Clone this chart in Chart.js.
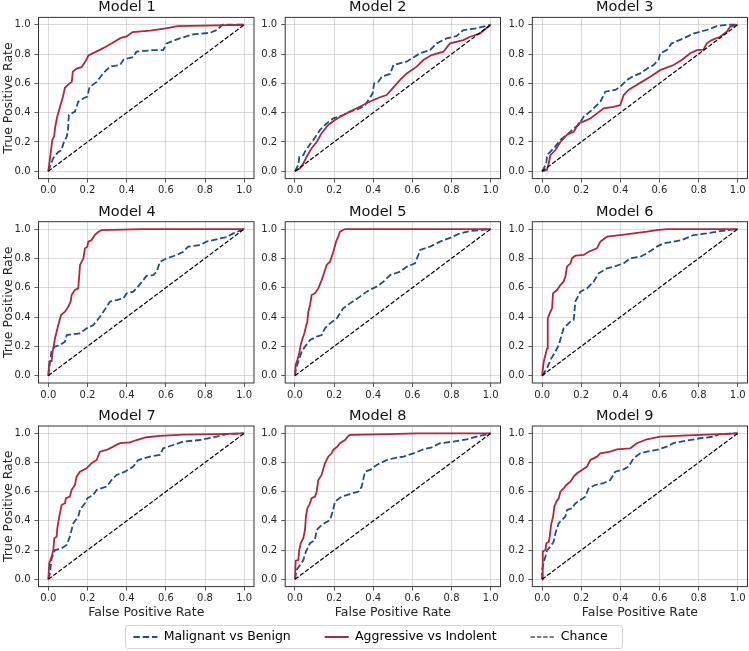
<!DOCTYPE html>
<html>
<head>
<meta charset="utf-8">
<script src="https://cdn.jsdelivr.net/npm/chart.js@4"></script>
<style>
html,body{margin:0;padding:0;background:#fff;overflow:hidden}
#fig{position:relative;width:749px;height:651px;overflow:hidden}
#fig canvas{position:absolute}
#legendBox{position:absolute;left:125px;top:625px;width:498px;height:24px;border:1px solid #d4d4d4;border-radius:3px;box-sizing:border-box}
</style>
</head>
<body>
<div id="fig"><div id="legendBox"></div></div>
<script>
// ---- data ----
const modelNames = ['Model 1','Model 2','Model 3','Model 4','Model 5','Model 6','Model 7','Model 8','Model 9'];
const rateTicks = [0, 0.2, 0.4, 0.6, 0.8, 1.0];
const chanceX = [0, 1];
const chanceY = [0, 1];

const malX1 = [0,0.025,0.05,0.068,0.077,0.094,0.1,0.105,0.136,0.153,0.18,0.2,0.21,0.247,0.28,0.315,0.366,0.386,0.434,0.45,0.536,0.587,0.604,0.67,0.74,0.825,0.86,0.89,1];
const malY1 = [0,0.09,0.13,0.145,0.19,0.236,0.27,0.384,0.407,0.475,0.498,0.51,0.573,0.61,0.668,0.714,0.725,0.764,0.78,0.816,0.827,0.827,0.873,0.907,0.934,0.945,0.964,1,1];
const aggX1 = [0,0.01,0.02,0.03,0.035,0.045,0.06,0.075,0.085,0.1,0.12,0.125,0.145,0.17,0.19,0.205,0.25,0.28,0.32,0.37,0.40,0.43,0.52,0.6,0.66,0.86,1];
const aggY1 = [0,0.1,0.21,0.24,0.3,0.37,0.44,0.51,0.57,0.59,0.61,0.68,0.7,0.71,0.75,0.79,0.82,0.84,0.87,0.91,0.92,0.95,0.96,0.975,0.99,0.995,1];

const malX2 = [0,0.017,0.022,0.043,0.051,0.068,0.094,0.128,0.162,0.196,0.247,0.281,0.332,0.358,0.375,0.397,0.404,0.426,0.443,0.486,0.503,0.57,0.605,0.639,0.69,0.724,0.775,0.826,0.86,0.928,1];
const malY2 = [0,0.043,0.1,0.111,0.134,0.168,0.214,0.282,0.327,0.361,0.384,0.407,0.43,0.452,0.486,0.532,0.6,0.611,0.645,0.664,0.725,0.748,0.777,0.805,0.827,0.873,0.907,0.923,0.964,0.975,1];
const aggX2 = [0,0.026,0.043,0.06,0.085,0.111,0.136,0.17,0.204,0.247,0.281,0.315,0.366,0.4,0.434,0.468,0.503,0.537,0.571,0.622,0.656,0.698,0.758,0.792,0.86,0.894,0.945,1];
const aggY2 = [0,0.02,0.055,0.1,0.157,0.2,0.26,0.316,0.35,0.384,0.407,0.43,0.464,0.486,0.505,0.52,0.573,0.623,0.668,0.714,0.759,0.793,0.816,0.873,0.895,0.918,0.94,1];

const malX3 = [0,0.0085,0.022,0.0255,0.0425,0.068,0.0935,0.128,0.162,0.187,0.213,0.255,0.298,0.323,0.374,0.4,0.434,0.468,0.502,0.536,0.57,0.595,0.604,0.638,0.663,0.723,0.774,0.842,0.893,0.944,1];
const malY3 = [0,0.02,0.055,0.11,0.134,0.17,0.214,0.25,0.293,0.316,0.373,0.418,0.475,0.543,0.555,0.577,0.623,0.65,0.668,0.70,0.725,0.76,0.805,0.827,0.873,0.907,0.94,0.964,0.99,1,1];
const aggX3 = [0,0.0255,0.034,0.0425,0.068,0.0935,0.128,0.162,0.187,0.213,0.247,0.281,0.315,0.366,0.4,0.417,0.442,0.468,0.51,0.553,0.604,0.672,0.714,0.757,0.791,0.825,0.842,0.867,0.91,0.944,0.961,1];
const aggY3 = [0,0.01,0.055,0.11,0.145,0.2,0.25,0.27,0.327,0.34,0.36,0.395,0.43,0.44,0.452,0.52,0.555,0.577,0.61,0.645,0.69,0.725,0.76,0.805,0.827,0.83,0.873,0.895,0.918,0.952,0.986,1];

const malX4 = [0,0.005,0.017,0.034,0.06,0.085,0.094,0.119,0.162,0.196,0.23,0.264,0.281,0.315,0.349,0.383,0.4,0.434,0.45,0.485,0.502,0.536,0.553,0.57,0.604,0.655,0.689,0.714,0.774,0.808,0.876,0.91,0.944,1];
const malY4 = [0,0.05,0.175,0.198,0.209,0.232,0.277,0.282,0.289,0.323,0.345,0.402,0.436,0.505,0.516,0.527,0.561,0.573,0.595,0.652,0.682,0.686,0.709,0.777,0.8,0.823,0.845,0.88,0.891,0.914,0.936,0.945,0.97,1];
const aggX4 = [0,0.005,0.017,0.022,0.029,0.034,0.0425,0.051,0.065,0.085,0.102,0.114,0.119,0.136,0.153,0.162,0.179,0.187,0.199,0.204,0.221,0.238,0.255,0.272,0.476,1];
const aggY4 = [0,0.095,0.1,0.164,0.209,0.255,0.3,0.345,0.414,0.436,0.47,0.505,0.55,0.584,0.595,0.755,0.8,0.868,0.88,0.914,0.925,0.96,0.98,0.993,1,1];

const malX5 = [0,0.005,0.017,0.034,0.051,0.077,0.111,0.136,0.153,0.179,0.213,0.247,0.281,0.332,0.366,0.417,0.451,0.486,0.537,0.571,0.613,0.63,0.639,0.69,0.741,0.792,0.843,0.894,1];
const malY5 = [0,0.05,0.095,0.164,0.198,0.243,0.266,0.277,0.323,0.357,0.39,0.46,0.493,0.539,0.573,0.607,0.64,0.686,0.709,0.743,0.766,0.823,0.857,0.88,0.914,0.94,0.97,0.986,1];
const aggX5 = [0,0.0034,0.012,0.022,0.029,0.039,0.048,0.056,0.063,0.068,0.077,0.085,0.102,0.119,0.136,0.148,0.162,0.179,0.196,0.21,0.221,0.23,0.256,1];
const aggY5 = [0,0.073,0.107,0.152,0.209,0.255,0.289,0.334,0.368,0.436,0.482,0.55,0.561,0.595,0.65,0.698,0.755,0.777,0.845,0.914,0.948,0.982,1,1];

const malX6 = [0,0.0255,0.0425,0.068,0.085,0.11,0.1445,0.1616,0.17,0.1956,0.2296,0.2636,0.289,0.332,0.366,0.4167,0.45,0.5017,0.5357,0.5867,0.6207,0.6718,0.714,0.774,0.842,0.91,1];
const malY6 = [0,0.05,0.107,0.164,0.209,0.323,0.368,0.38,0.505,0.573,0.595,0.641,0.698,0.732,0.743,0.766,0.8,0.811,0.834,0.88,0.902,0.914,0.925,0.959,0.97,0.986,1];
const aggX6 = [0,0.0085,0.017,0.0255,0.029,0.0425,0.051,0.056,0.0765,0.0935,0.11,0.119,0.1275,0.145,0.153,0.17,0.2126,0.238,0.28,0.298,0.332,0.4,0.468,0.536,0.587,0.638,1];
const aggY6 = [0,0.095,0.141,0.186,0.391,0.436,0.459,0.561,0.584,0.618,0.641,0.675,0.743,0.766,0.8,0.818,0.823,0.845,0.868,0.914,0.948,0.959,0.97,0.982,0.993,1,1];

const malX7 = [0,0.0085,0.017,0.034,0.068,0.0935,0.11,0.1276,0.153,0.1616,0.187,0.199,0.2296,0.2466,0.2976,0.323,0.3486,0.391,0.4337,0.459,0.5187,0.5697,0.5867,0.6378,0.6888,0.774,0.8588,0.91,1];
const malY7 = [0,0.041,0.144,0.2,0.212,0.235,0.292,0.384,0.429,0.475,0.521,0.555,0.578,0.612,0.635,0.68,0.715,0.737,0.772,0.817,0.84,0.852,0.897,0.92,0.943,0.954,0.977,0.995,1];
const aggX7 = [0,0.005,0.017,0.0255,0.031,0.0425,0.046,0.056,0.068,0.085,0.09,0.11,0.119,0.136,0.1446,0.1616,0.1956,0.221,0.2466,0.2636,0.2976,0.3316,0.3656,0.4167,0.4507,0.5017,0.5697,0.6888,0.8588,1];
const aggY7 = [0,0.11,0.155,0.2,0.281,0.292,0.349,0.429,0.509,0.521,0.555,0.566,0.612,0.646,0.703,0.737,0.76,0.795,0.817,0.874,0.886,0.909,0.932,0.938,0.954,0.973,0.982,0.991,0.995,1];

const malX8 = [0,0.0085,0.0255,0.0426,0.056,0.0767,0.102,0.1107,0.136,0.179,0.1925,0.2044,0.2385,0.281,0.3237,0.3407,0.3578,0.3833,0.4174,0.4685,0.5026,0.5537,0.6048,0.6559,0.6985,0.741,0.809,0.877,0.928,1];
const malY8 = [0,0.064,0.098,0.132,0.19,0.247,0.269,0.338,0.372,0.406,0.463,0.532,0.566,0.584,0.6,0.635,0.737,0.749,0.783,0.817,0.829,0.84,0.863,0.89,0.904,0.932,0.943,0.959,0.977,1];
const aggX8 = [0,0.0034,0.017,0.022,0.029,0.0426,0.051,0.056,0.063,0.073,0.085,0.102,0.1107,0.119,0.136,0.153,0.17,0.187,0.196,0.216,0.23,0.2555,0.2726,0.281,0.4855,0.6218,1];
const aggY8 = [0,0.128,0.132,0.201,0.247,0.281,0.338,0.429,0.486,0.509,0.555,0.566,0.6,0.68,0.715,0.795,0.84,0.863,0.886,0.909,0.932,0.954,0.982,0.989,0.995,1,1];

const malX9 = [0,0,0.0085,0.017,0.0255,0.0425,0.0595,0.068,0.085,0.102,0.119,0.1276,0.153,0.17,0.1956,0.221,0.238,0.272,0.3146,0.3486,0.374,0.4167,0.442,0.4677,0.5017,0.5357,0.5867,0.6378,0.6718,0.7398,0.8078,0.8758,0.9098,1];
const malY9 = [0,0.064,0.121,0.155,0.2,0.224,0.258,0.315,0.384,0.406,0.43,0.475,0.486,0.52,0.543,0.566,0.623,0.646,0.658,0.68,0.737,0.753,0.772,0.829,0.863,0.874,0.886,0.909,0.932,0.95,0.966,0.977,0.995,1];
const aggX9 = [0,0.0034,0.017,0.022,0.034,0.039,0.046,0.056,0.063,0.073,0.085,0.0935,0.1105,0.124,0.1446,0.1616,0.1786,0.204,0.2296,0.2466,0.2806,0.2976,0.3486,0.3827,0.4507,0.4847,0.5357,0.6037,0.6888,0.8078,0.9098,1];
const aggY9 = [0,0.19,0.201,0.247,0.258,0.292,0.372,0.429,0.498,0.532,0.555,0.6,0.623,0.646,0.669,0.703,0.726,0.749,0.772,0.817,0.84,0.863,0.874,0.89,0.897,0.932,0.959,0.977,0.982,0.989,0.995,1];

const curves = [
  [malX1, malY1, aggX1, aggY1], [malX2, malY2, aggX2, aggY2], [malX3, malY3, aggX3, aggY3],
  [malX4, malY4, aggX4, aggY4], [malX5, malY5, aggX5, aggY5], [malX6, malY6, aggX6, aggY6],
  [malX7, malY7, aggX7, aggY7], [malX8, malY8, aggX8, aggY8], [malX9, malY9, aggX9, aggY9]
];

// ---- look ----
const BLUE = '#1f4e8c', RED = '#b5233c', INK = '#262626';
const colLeft = [38.5, 285.2, 532.3], colRight = [254, 500.5, 747.5];
const rowTop = [17.4, 221.7, 426], rowBottom = [178.6, 383, 586.6];

Chart.defaults.font.family = "'DejaVu Sans', sans-serif";
Chart.defaults.color = INK;
Chart.defaults.animation = false;

const frame = {
  id: 'frame',
  afterDatasetsDraw(chart){
    const {ctx, chartArea: a} = chart;
    ctx.save();
    ctx.strokeStyle = '#333';
    ctx.lineWidth = 1;
    ctx.strokeRect(a.left, a.top, a.right - a.left, a.bottom - a.top);
    ctx.restore();
  }
};

function pts(xs, ys){ return xs.map((x, k) => ({x, y: ys[k]})); }

function fig(){ return document.getElementById('fig'); }

function makeCanvas(left, top, w, h){
  const c = document.createElement('canvas');
  c.width = w; c.height = h;
  c.style.left = left + 'px'; c.style.top = top + 'px';
  c.style.width = w + 'px'; c.style.height = h + 'px';
  fig().appendChild(c);
  return c;
}

function axis(kind, size, showTitle){
  const horiz = kind === 'x';
  return {
    type: 'linear', min: -0.05, max: 1.05,
    afterBuildTicks: s => { s.ticks = rateTicks.map(v => ({value: v})); },
    afterFit: s => {
      if (horiz){ s.height = size; s.paddingLeft = 0; s.paddingRight = 0; }
      else { s.width = size; s.paddingTop = 0; s.paddingBottom = 0; }
    },
    ticks: { callback: v => v.toFixed(1), font: {size: 10}, color: INK, padding: horiz ? 2 : 4, maxRotation: 0, autoSkip: false },
    grid: { color: 'rgba(176,176,176,0.6)', lineWidth: 0.8, tickColor: '#333', tickLength: 4, tickWidth: 0.8 },
    border: { display: false },
    title: {
      display: showTitle,
      text: horiz ? 'False Positive Rate' : 'True Positive Rate',
      font: {size: 12.5}, color: INK,
      padding: horiz ? {top: 0, bottom: 0} : {top: 1, bottom: 0}
    }
  };
}

function panel(i){
  const col = i % 3, row = Math.floor(i / 3);
  const bl = colLeft[col], br = colRight[col], bt = rowTop[row], bb = rowBottom[row];
  const axisW = col === 0 ? 38.5 : 30;
  const axisH = row === 2 ? 33.5 : 22;
  const left = Math.floor(bl - axisW);
  const top = Math.floor(bt - 20);
  const w = Math.ceil(br - left + 4);
  const h = Math.ceil(bb - top + axisH);
  const titleH = 14.5 * 1.2;
  const padTop = bt - top - titleH - 1.1;
  const [mx, my, ax, ay] = curves[i];

  new Chart(makeCanvas(left, top, w, h), {
    type: 'scatter',
    data: {
      datasets: [
        { label: 'Chance', data: pts(chanceX, chanceY), showLine: true, borderColor: '#000', borderWidth: 1.2, borderDash: [4.4, 1.9], pointRadius: 0 },
        { label: 'Aggressive vs Indolent', data: pts(ax, ay), showLine: true, borderColor: RED, borderWidth: 1.8, pointRadius: 0 },
        { label: 'Malignant vs Benign', data: pts(mx, my), showLine: true, borderColor: BLUE, borderWidth: 1.8, borderDash: [6.5, 2.8], pointRadius: 0 }
      ]
    },
    options: {
      responsive: false, events: [],
      layout: { padding: { top: 0, left: 0, right: w - (br - left), bottom: h - (bb - top + axisH) } },
      scales: { x: axis('x', axisH, row === 2), y: axis('y', bl - left, col === 0) },
      plugins: {
        legend: { display: false }, tooltip: { enabled: false },
        title: { display: true, text: modelNames[i], font: {size: 14.5, weight: 'normal', lineHeight: 1.2}, color: '#111', padding: {top: padTop, bottom: 1.1} }
      }
    },
    plugins: [frame]
  });
}

for (let i = 0; i < modelNames.length; i++) panel(i);

// shared legend along the bottom
new Chart(makeCanvas(0, 596, 749, 180), {
  type: 'scatter',
  data: {
    datasets: [
      { label: 'Malignant vs Benign', data: [], borderColor: BLUE, borderWidth: 1.8, borderDash: [6.5, 2.8] },
      { label: 'Aggressive vs Indolent', data: [], borderColor: RED, borderWidth: 1.8 },
      { label: 'Chance', data: [], borderColor: '#000', borderWidth: 1.2, borderDash: [4.4, 1.9] }
    ]
  },
  options: {
    responsive: false, events: [],
    layout: { padding: { top: 0.75, right: 8 } },
    scales: { x: {display: false}, y: {display: false} },
    plugins: {
      tooltip: { enabled: false },
      legend: {
        position: 'top',
        labels: {
          usePointStyle: true, pointStyle: 'line', pointStyleWidth: 24, padding: 34,
          font: {size: 12.5}, color: INK,
          generateLabels: chart => chart.data.datasets.map((d, i) => ({
            text: d.label, datasetIndex: i, hidden: false, pointStyle: 'line',
            strokeStyle: d.borderColor, fillStyle: d.borderColor,
            lineWidth: d.borderWidth, lineDash: d.borderDash || []
          }))
        }
      }
    }
  }
});
</script>
</body>
</html>
